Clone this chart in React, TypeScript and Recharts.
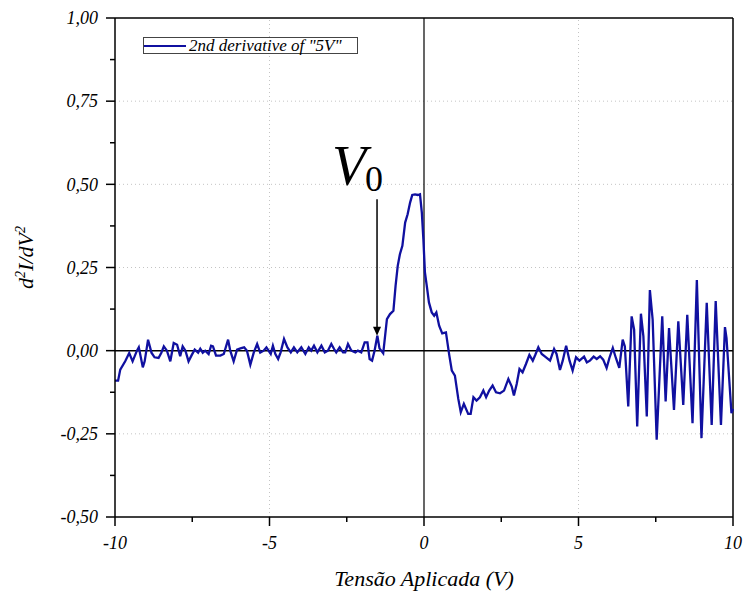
import React from 'react'
import { LineChart, Line, XAxis, YAxis, ReferenceLine, Legend } from 'recharts'

// applied voltage (V)
const voltage = [
  -10.0, -9.9, -9.83, -9.67, -9.54, -9.43, -9.29, -9.23, -9.1, -9.04, -8.93, -8.82, -8.72, -8.59, -8.5,
  -8.42, -8.32, -8.21, -8.1, -7.99, -7.89, -7.81, -7.72, -7.62, -7.51, -7.42, -7.31, -7.24, -7.16, -7.08,
  -6.97, -6.89, -6.83, -6.73, -6.59, -6.48, -6.34, -6.27, -6.16, -6.05, -5.94, -5.82, -5.73, -5.62, -5.51,
  -5.4, -5.3, -5.19, -5.1, -4.96, -4.89, -4.81, -4.72, -4.64, -4.53, -4.42, -4.31, -4.21, -4.1, -3.97,
  -3.84, -3.73, -3.65, -3.56, -3.45, -3.32, -3.21, -3.11, -3.0, -2.91, -2.84, -2.73, -2.62, -2.55, -2.46,
  -2.35, -2.22, -2.14, -2.03, -1.92, -1.83, -1.76, -1.68, -1.6, -1.51, -1.44, -1.32, -1.2, -1.1, -0.99,
  -0.92, -0.85, -0.78, -0.7, -0.61, -0.53, -0.45, -0.38, -0.29, -0.2, -0.13, -0.07, -0.02, 0.03, 0.09,
  0.16, 0.25, 0.33, 0.4, 0.49, 0.59, 0.71, 0.82, 0.9, 1.0, 1.11, 1.19, 1.29, 1.43, 1.51,
  1.6, 1.7, 1.81, 1.92, 2.01, 2.11, 2.22, 2.33, 2.46, 2.59, 2.73, 2.84, 2.91, 3.0, 3.09,
  3.19, 3.3, 3.41, 3.52, 3.6, 3.7, 3.81, 3.95, 4.08, 4.21, 4.29, 4.4, 4.49, 4.6, 4.71,
  4.81, 4.92, 5.03, 5.18, 5.27, 5.37, 5.49, 5.59, 5.7, 5.8, 5.91, 6.0, 6.11, 6.21, 6.32,
  6.43, 6.5, 6.61, 6.72, 6.8, 6.9, 7.02, 7.1, 7.21, 7.31, 7.4, 7.53, 7.71, 7.82, 7.93,
  8.09, 8.23, 8.39, 8.52, 8.69, 8.83, 8.98, 9.15, 9.31, 9.44, 9.61, 9.74, 9.79, 9.95, 10.0,
]

// second derivative d2I/dV2
const secondDerivative = [
  -0.09, -0.09, -0.057, -0.032, -0.007, -0.032, 0.0, 0.01, -0.05, -0.032, 0.033, -0.006, -0.02, -0.022, -0.006,
  0.013, 0.0, -0.032, 0.023, 0.018, -0.017, 0.013, 0.0, -0.032, -0.012, 0.003, -0.006, 0.006, -0.006, 0.0,
  -0.01, 0.015, 0.013, -0.015, -0.015, -0.01, 0.033, 0.0, -0.032, 0.003, 0.007, 0.01, 0.0, -0.042, -0.006,
  0.02, -0.006, 0.0, 0.01, -0.01, 0.015, -0.01, -0.025, -0.005, 0.035, 0.01, -0.005, 0.01, -0.005, 0.01,
  -0.01, 0.01, 0.0, 0.015, -0.005, 0.015, -0.005, 0.0, 0.02, 0.005, -0.005, 0.01, -0.005, -0.005, 0.02,
  0.0, -0.005, 0.0, -0.005, 0.025, 0.025, -0.025, -0.03, 0.0, 0.045, 0.007, -0.008, 0.095, 0.11, 0.12,
  0.195, 0.255, 0.29, 0.315, 0.385, 0.41, 0.445, 0.468, 0.47, 0.468, 0.47, 0.415, 0.335, 0.235, 0.195,
  0.145, 0.115, 0.105, 0.115, 0.075, 0.052, 0.055, -0.015, -0.06, -0.075, -0.145, -0.185, -0.16, -0.19, -0.19,
  -0.14, -0.15, -0.14, -0.12, -0.14, -0.12, -0.105, -0.125, -0.128, -0.12, -0.085, -0.108, -0.135, -0.1, -0.055,
  -0.065, -0.04, -0.013, -0.03, -0.013, 0.01, -0.01, -0.02, -0.03, 0.005, -0.01, -0.058, -0.03, 0.015, -0.03,
  -0.06, -0.02, -0.03, -0.018, -0.035, -0.03, -0.018, -0.025, -0.017, -0.027, -0.052, -0.022, 0.008, -0.022, -0.052,
  0.033, 0.013, -0.168, 0.103, 0.063, -0.228, 0.111, 0.043, -0.198, 0.182, 0.093, -0.268, 0.103, -0.153, 0.068,
  -0.178, 0.088, -0.163, 0.108, -0.218, 0.212, -0.263, 0.144, -0.223, 0.149, -0.223, 0.071, 0.038, -0.188, -0.175,
]

const xTicks = [-10, -7.5, -5, -2.5, 0, 2.5, 5, 7.5, 10]
const yTicks = [-0.5, -0.375, -0.25, -0.125, 0, 0.125, 0.25, 0.375, 0.5, 0.625, 0.75, 0.875, 1]
const xGrid = [-5, 5]
const yGrid = [-0.25, 0.25, 0.5, 0.75]
const seriesName = '2nd derivative of "5V"'
const v0Voltage = -1.52

const data = voltage.map((v, i) => ({ v, d2: secondDerivative[i] }))

// serif if the machine has one, otherwise whatever it falls back to
const FONT = "'Times New Roman', Times, 'Liberation Serif', 'DejaVu Serif', serif"
const BLUE = '#1010a0'
const X_MARGIN = 10
const Y_MARGIN = 17

const isMajorX = (v: number) => v % 5 === 0
const isMajorY = (v: number) => Math.abs(v * 4 - Math.round(v * 4)) < 1e-9
const fmtY = (v: number) => v.toFixed(2).replace('.', ',')

const serif = (size: number, italic = true) => ({
  fontFamily: FONT,
  fontStyle: italic ? 'italic' : 'normal',
  fontSize: size,
})

const XTick = ({ x, y, payload }: any) => {
  const major = isMajorX(payload.value)
  const ay = y - X_MARGIN
  return (
    <g>
      <line x1={x} x2={x} y1={ay} y2={ay + (major ? 9 : 5)} stroke="#000" strokeWidth={1.5} />
      {major && (
        <text x={x} y={y + 22} textAnchor="middle" style={serif(18)} fill="#000">
          {payload.value}
        </text>
      )}
    </g>
  )
}

const YTick = ({ x, y, payload }: any) => {
  const major = isMajorY(payload.value)
  const ax = x + Y_MARGIN
  return (
    <g>
      <line x1={ax - (major ? 9 : 5)} x2={ax} y1={y} y2={y} stroke="#000" strokeWidth={1.5} />
      {major && (
        <text x={x} y={y} dy="0.35em" textAnchor="end" style={serif(18)} fill="#000">
          {fmtY(payload.value)}
        </text>
      )}
    </g>
  )
}

const XTitle = ({ viewBox }: any) => (
  <text x={viewBox.x + viewBox.width / 2} y={viewBox.y + 69} textAnchor="middle" style={serif(22)} fill="#000">
    Tensão Aplicada (V)
  </text>
)

const YTitle = ({ viewBox }: any) => {
  const cx = 33
  const cy = viewBox.y + viewBox.height / 2 - 10
  return (
    <text transform={`translate(${cx},${cy}) rotate(-90)`} textAnchor="middle" style={serif(22)} fill="#000">
      d<tspan fontSize={14} dy={-8}>2</tspan><tspan dy={8}>I/dV</tspan><tspan fontSize={14} dy={-8}>2</tspan>
    </text>
  )
}

const V0Arrow = ({ x1, y1, x2, y2 }: any) => (
  <g>
    <line x1={x1} y1={y1} x2={x2} y2={y2 - 8} stroke="#000" strokeWidth={1.5} />
    <polygon points={`${x2 - 4},${y2 - 9} ${x2 + 4},${y2 - 9} ${x2},${y2}`} fill="#000" />
    <text x={x1 - 45} y={y1 - 14} style={serif(56)} fill="#000">V</text>
    <text x={x1 - 12} y={y1 - 8} style={serif(36, false)} fill="#000">0</text>
  </g>
)

const LegendBox = () => (
  <div style={{ border: '1px solid #444', background: '#fff', display: 'flex', alignItems: 'center',
    width: 215, height: 17, boxSizing: 'border-box' }}>
    <svg width={45} height={14}>
      <line x1={0} x2={42} y1={7} y2={7} stroke={BLUE} strokeWidth={2} />
    </svg>
    <span style={{ ...serif(17), lineHeight: '15px', color: '#000', whiteSpace: 'nowrap' }}>
      {seriesName}
    </span>
  </div>
)

export default function App() {
  return (
    <div style={{ position: 'absolute', left: 0, top: 0, width: 745, height: 595, background: '#fff' }}>
      <LineChart width={745} height={595} data={data} margin={{ top: 18, right: 12, bottom: 38, left: 55 }}>
        {yGrid.map((g) => (
          <ReferenceLine key={`gy${g}`} y={g} stroke="#c4c4c4" strokeDasharray="1 3" />
        ))}
        {xGrid.map((g) => (
          <ReferenceLine key={`gx${g}`} x={g} stroke="#c4c4c4" strokeDasharray="1 3" />
        ))}
        <ReferenceLine y={0} stroke="#000" strokeWidth={1.5} />
        <ReferenceLine x={0} stroke="#000" strokeWidth={1.2} />
        <ReferenceLine y={1} stroke="#000" strokeWidth={1.5} />
        <ReferenceLine x={10} stroke="#000" strokeWidth={1.5} />
        <XAxis
          dataKey="v"
          type="number"
          domain={[-10, 10]}
          ticks={xTicks}
          interval={0}
          height={40}
          tickSize={0}
          tickMargin={X_MARGIN}
          tickLine={false}
          tick={<XTick />}
          axisLine={{ stroke: '#000', strokeWidth: 1.5 }}
          label={{ content: <XTitle /> }}
        />
        <YAxis
          type="number"
          domain={[-0.5, 1]}
          ticks={yTicks}
          interval={0}
          width={60}
          tickSize={0}
          tickMargin={Y_MARGIN}
          tickLine={false}
          tick={<YTick />}
          axisLine={{ stroke: '#000', strokeWidth: 1.5 }}
          label={{ content: <YTitle /> }}
        />
        <Line
          type="linear"
          dataKey="d2"
          name={seriesName}
          stroke={BLUE}
          strokeWidth={2.3}
          dot={false}
          isAnimationActive={false}
        />
        <ReferenceLine
          segment={[{ x: v0Voltage, y: 0.455 }, { x: v0Voltage, y: 0.045 }]}
          shape={<V0Arrow />}
        />
        <Legend
          layout="horizontal"
          verticalAlign="middle"
          align="center"
          wrapperStyle={{ left: 143, top: 37, width: 'auto' }}
          content={<LegendBox />}
        />
      </LineChart>
    </div>
  )
}
